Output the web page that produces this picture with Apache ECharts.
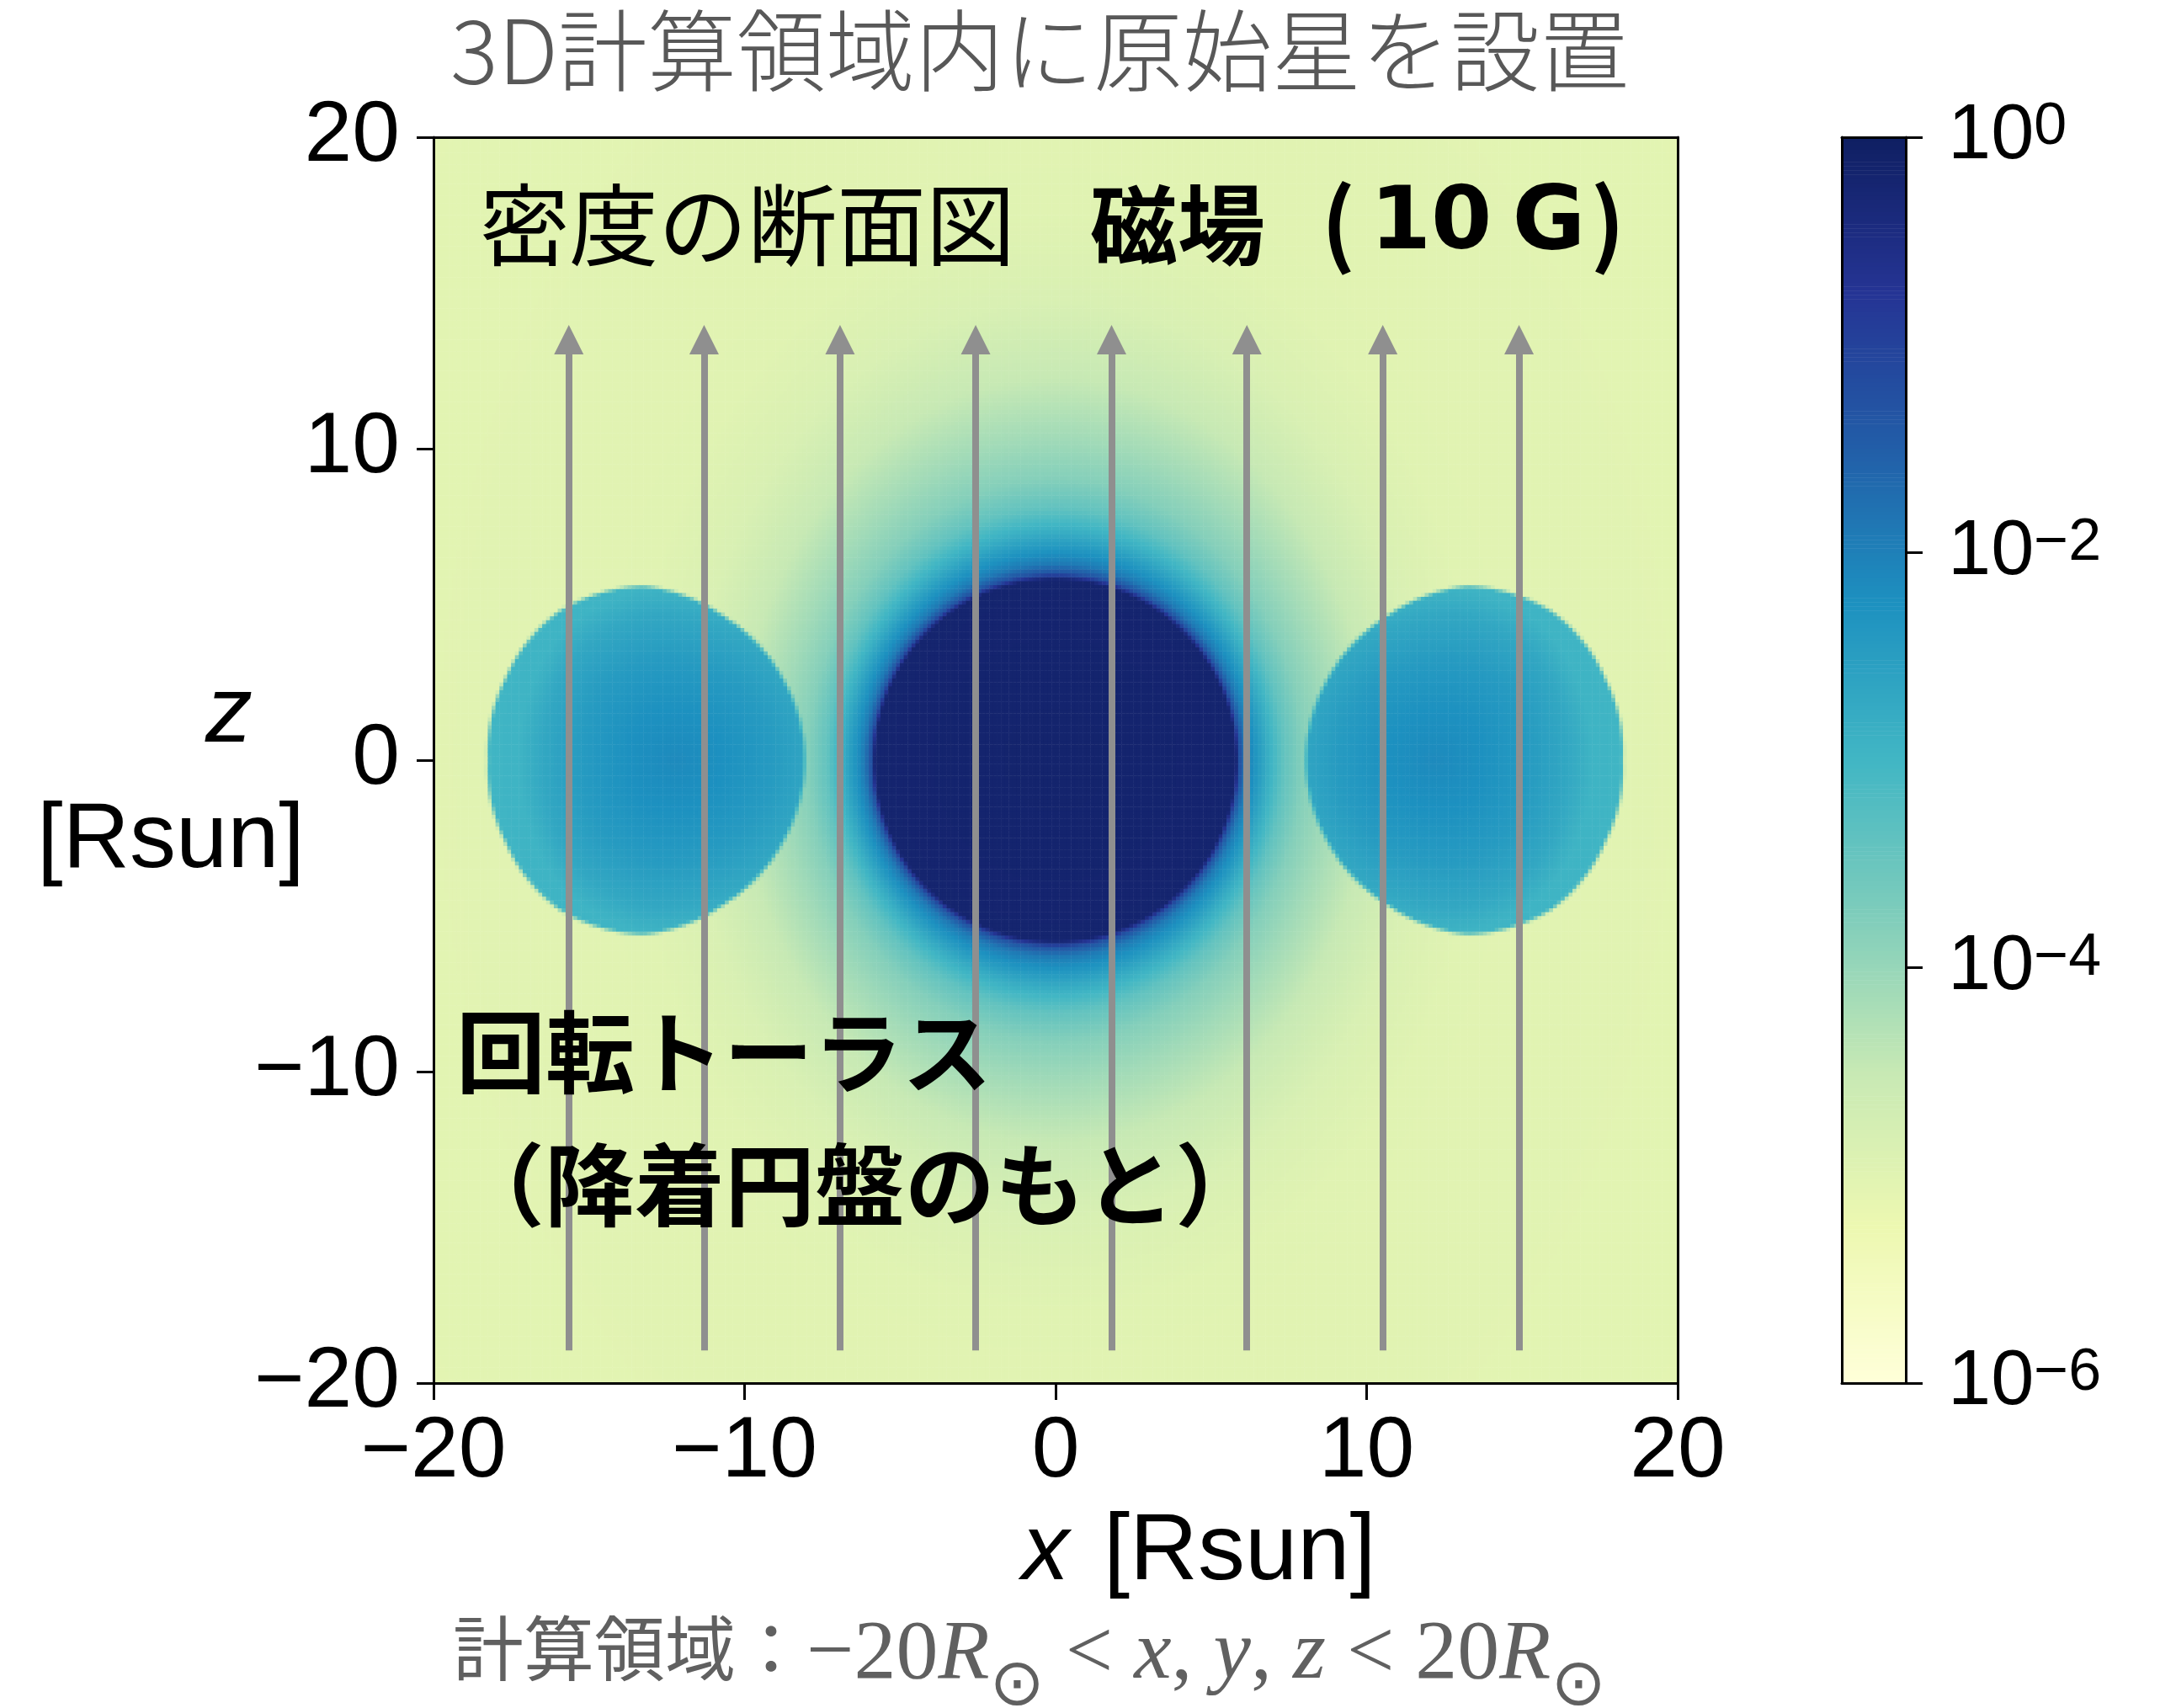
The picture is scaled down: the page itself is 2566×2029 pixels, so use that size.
<!DOCTYPE html>
<html>
<head>
<meta charset="utf-8">
<script src="https://cdn.jsdelivr.net/npm/echarts@6/dist/echarts.min.js"></script>
<style>
  html, body { margin: 0; padding: 0; background: #fff; }
  #chart { width: 2566px; height: 2029px; }
</style>
</head>
<body>
<div id="chart"></div>
<script>
// ---- Physical layout of the density cross-section (units: Rsun, log10 density) ----

// Protostar: surface radius and log density against depth outside the surface
const starRadius = 5.8;
const haloDepth  = [-30, 0,    0.2,  0.5,  0.8,  1.5,  2.3,  3.2,  4.5,  6.5,  9,     12,   30];
const haloLogRho = [0,  -0.2, -1.3, -1.9, -2.2, -2.8, -3.4, -3.8, -4.1, -4.5, -4.85, -5.0, -5.05];
// halo falls off faster along the equator than towards the poles
const haloSqueeze = 0.5;

// Rotating torus: centre of the cross-section, densest point, outline radius by polar angle
const torusCentreX = 13.25;
const torusPeakX = 12.2;
const torusAngle  = [0,   30,   60,  90,  120, 150, 180];
const torusRadius = [5.0, 5.15, 5.5, 5.6, 5.3, 5.2, 5.2];
const torusDepth  = [0,     0.3,   0.6,   0.85, 1.0,   1.3];
const torusLogRho = [-2.15, -2.25, -2.45, -2.7, -2.95, -3.0];
const torusEdgeSoftness = 0.15;

// Magnetic field lines (10 G, pointing to +z)
const fieldLineX = [-15.65, -11.3, -6.93, -2.57, 1.8, 6.15, 10.52, 14.9];
const fieldLineBottom = -18.95;
const fieldLineTop = 13.5;

// Axis ranges
const axisRange = [-20, 20];
const axisStep = 10;
const colorbarRange = [-6, 0];
const colorbarStep = 2;

// YlGnBu colour scale
const ylgnbu = ['#ffffd9', '#edf8b1', '#c7e9b4', '#7fcdbb', '#41b6c4',
                '#1d91c0', '#225ea8', '#253494', '#0f1f62'];

// ---- helpers ----
function lookup(xs, ys, v) {
  if (v <= xs[0]) return ys[0];
  for (let i = 1; i < xs.length; i++) {
    if (v <= xs[i]) {
      const t = (v - xs[i - 1]) / (xs[i] - xs[i - 1]);
      return ys[i - 1] + t * (ys[i] - ys[i - 1]);
    }
  }
  return ys[ys.length - 1];
}

function logDensity(x, z) {
  const r = Math.hypot(x, z);
  const c = r > 0 ? x / r : 0;
  const depth = (r - starRadius) * (r > starRadius ? 1 + haloSqueeze * c * c : 1);
  let v = lookup(haloDepth, haloLogRho, depth);
  const ax = Math.abs(x);
  const dx = ax - torusCentreX;
  const theta = Math.atan2(Math.abs(z), dx) * 180 / Math.PI;
  const edge = lookup(torusAngle, torusRadius, theta);
  const inside = (edge - Math.hypot(dx, z)) / torusEdgeSoftness + 0.5;
  if (inside > 0) {
    const w = Math.min(1, inside);
    const t = lookup(torusDepth, torusLogRho, Math.hypot(ax - torusPeakX, z) / edge);
    v = v * (1 - w) + t * w;
  }
  return Math.max(colorbarRange[0], Math.min(colorbarRange[1], v));
}

// ---- grid of cells for the heatmap ----
const N = 320;
const cell = (axisRange[1] - axisRange[0]) / N;
const cellCentres = [];
for (let i = 0; i < N; i++) cellCentres.push((axisRange[0] + (i + 0.5) * cell).toFixed(3));
const densityCells = [];
for (let i = 0; i < N; i++) {
  const x = axisRange[0] + (i + 0.5) * cell;
  for (let j = 0; j < N; j++) {
    const z = axisRange[0] + (j + 0.5) * cell;
    densityCells.push([i, j, logDensity(x, z)]);
  }
}

// colour bar column
const M = 300;
const barLevels = [];
const barCells = [];
for (let k = 0; k < M; k++) {
  const v = colorbarRange[0] + (k + 0.5) * (colorbarRange[1] - colorbarRange[0]) / M;
  barLevels.push(v.toFixed(3));
  barCells.push([0, k, v]);
}

const fieldLines = fieldLineX.map(x => ({ coords: [[x, fieldLineBottom], [x, fieldLineTop]] }));

const frame = { show: true, onZero: false, lineStyle: { color: '#000', width: 3 } };
const hiddenBits = { axisTick: { show: false }, axisLabel: { show: false }, splitLine: { show: false } };
const sans = 'Liberation Sans, Arial, Helvetica, sans-serif';
const serif = 'Liberation Serif, Times New Roman, serif';
const tickFont = { fontFamily: sans, fontSize: 102, color: '#000' };
const outTicks = { show: true, inside: false, length: 20, lineStyle: { color: '#000', width: 3 } };
const minus = v => String(v).replace('-', '\u2212');

function label(text, x, y, opts) {
  return {
    type: 'text', x: x, y: y, z: 20, silent: true,
    style: Object.assign({ text: text, fill: '#000', align: 'left', verticalAlign: 'middle' }, opts)
  };
}
const cjk = 'Noto Sans CJK JP';
const grey = '#606060';

const chart = echarts.init(document.getElementById('chart'), null, { renderer: 'canvas' });
chart.setOption({
  animation: false,
  backgroundColor: '#fff',
  grid: [
    { left: 515, top: 163, width: 1478, height: 1480 },
    { left: 2188, top: 163, width: 76, height: 1480 }
  ],
  xAxis: [
    Object.assign({ gridIndex: 0, type: 'category', data: cellCentres, position: 'top', axisLine: frame, z: 10 }, hiddenBits),
    {
      gridIndex: 0, type: 'value', position: 'bottom', min: axisRange[0], max: axisRange[1], interval: axisStep,
      axisLine: frame, axisTick: outTicks,
      axisLabel: Object.assign({ margin: 32, formatter: minus }, tickFont),
      splitLine: { show: false }, z: 10
    },
    Object.assign({ gridIndex: 1, type: 'category', data: ['cb'], position: 'bottom', axisLine: frame, z: 10 }, hiddenBits),
    Object.assign({ gridIndex: 1, type: 'value', min: 0, max: 1, position: 'top', axisLine: frame, z: 10 }, hiddenBits)
  ],
  yAxis: [
    Object.assign({ gridIndex: 0, type: 'category', data: cellCentres, position: 'right', axisLine: frame, z: 10 }, hiddenBits),
    {
      gridIndex: 0, type: 'value', position: 'left', min: axisRange[0], max: axisRange[1], interval: axisStep,
      axisLine: frame, axisTick: outTicks,
      axisLabel: Object.assign({ margin: 40, formatter: minus, padding: [22, 0, 0, 0] }, tickFont),
      splitLine: { show: false }, z: 10
    },
    Object.assign({ gridIndex: 1, type: 'category', data: barLevels, position: 'left', axisLine: frame, z: 10 }, hiddenBits),
    {
      gridIndex: 1, type: 'value', position: 'right', min: colorbarRange[0], max: colorbarRange[1], interval: colorbarStep,
      axisLine: frame, axisTick: outTicks,
      axisLabel: {
        margin: 50, align: 'left',
        formatter: v => '{b|10}{e|' + minus(v) + '}',
        rich: {
          b: { fontFamily: sans, fontSize: 92, lineHeight: 92, color: '#000' },
          e: { fontFamily: sans, fontSize: 70, lineHeight: 60, color: '#000', verticalAlign: 'top' }
        }
      },
      splitLine: { show: false }, z: 10
    }
  ],
  visualMap: {
    type: 'continuous', show: false, dimension: 2, seriesIndex: [0, 1],
    min: colorbarRange[0], max: colorbarRange[1],
    inRange: { color: ylgnbu }
  },
  series: [
    {
      name: 'density', type: 'heatmap', xAxisIndex: 0, yAxisIndex: 0,
      data: densityCells, progressive: 0, silent: true, z: 2
    },
    {
      name: 'colorbar', type: 'heatmap', xAxisIndex: 2, yAxisIndex: 2,
      data: barCells, progressive: 0, silent: true, z: 2
    },
    {
      name: 'B field', type: 'lines', coordinateSystem: 'cartesian2d', xAxisIndex: 1, yAxisIndex: 1,
      data: fieldLines, symbol: ['none', 'triangle'], symbolSize: 35, silent: true, z: 3,
      lineStyle: { color: '#8f8f8f', width: 8, opacity: 1, curveness: 0 }
    }
  ],
  graphic: [
    label('3D計算領域内に原始星を設置', 1235, 60, { fontFamily: cjk, fontWeight: 300, fontSize: 106, fill: '#585858', align: 'center' }),
    label('密度の断面図', 570, 267, { fontFamily: cjk, fontSize: 106 }),
    label('磁場', 1295, 267, { fontFamily: cjk, fontWeight: 'bold', fontSize: 104 }),
    label('(', 1590, 264, { fontFamily: cjk, fontWeight: 'bold', fontSize: 108, align: 'center' }),
    label('10', 1700, 268, { fontFamily: 'DejaVu Sans', fontWeight: 'bold', fontSize: 104, align: 'center' }),
    label('G', 1840, 268, { fontFamily: 'DejaVu Sans', fontWeight: 'bold', fontSize: 106, align: 'center' }),
    label(')', 1910, 264, { fontFamily: cjk, fontWeight: 'bold', fontSize: 108, align: 'center' }),
    label('回転トーラス', 542, 1250, { fontFamily: cjk, fontWeight: 'bold', fontSize: 106 }),
    label('（降着円盤のもと）', 540, 1407, { fontFamily: cjk, fontWeight: 'bold', fontSize: 107 }),
    label('z', 244, 850, { fontFamily: sans, fontStyle: 'italic', fontSize: 112 }),
    label('[Rsun]', 44, 1000, { fontFamily: sans, fontSize: 110 }),
    label('x', 1214, 1845, { fontFamily: sans, fontStyle: 'italic', fontSize: 112 }),
    label('[Rsun]', 1311, 1845, { fontFamily: sans, fontSize: 112 }),
    // domain statement; the ⊙ token is bottom-aligned in a taller line box so it drops to a subscript
    label('{c|計算領域：}{r|\u221220}{i|R}{s|\u2299}{r| < }{i|x}{r|, }{i|y}{r|, }{i|z}{r| < 20}{i|R}{s|\u2299}', 538, 1980, {
      fill: grey,
      rich: {
        c: { fontFamily: cjk, fontSize: 84, lineHeight: 100, fill: grey, verticalAlign: 'top' },
        r: { fontFamily: serif, fontSize: 100, lineHeight: 100, fill: grey, verticalAlign: 'top' },
        i: { fontFamily: serif, fontStyle: 'italic', fontSize: 100, lineHeight: 100, fill: grey, verticalAlign: 'top' },
        s: { fontFamily: 'DejaVu Sans', fontSize: 78, lineHeight: 127, fill: grey, verticalAlign: 'bottom' }
      }
    })
  ]
});
</script>
</body>
</html>
